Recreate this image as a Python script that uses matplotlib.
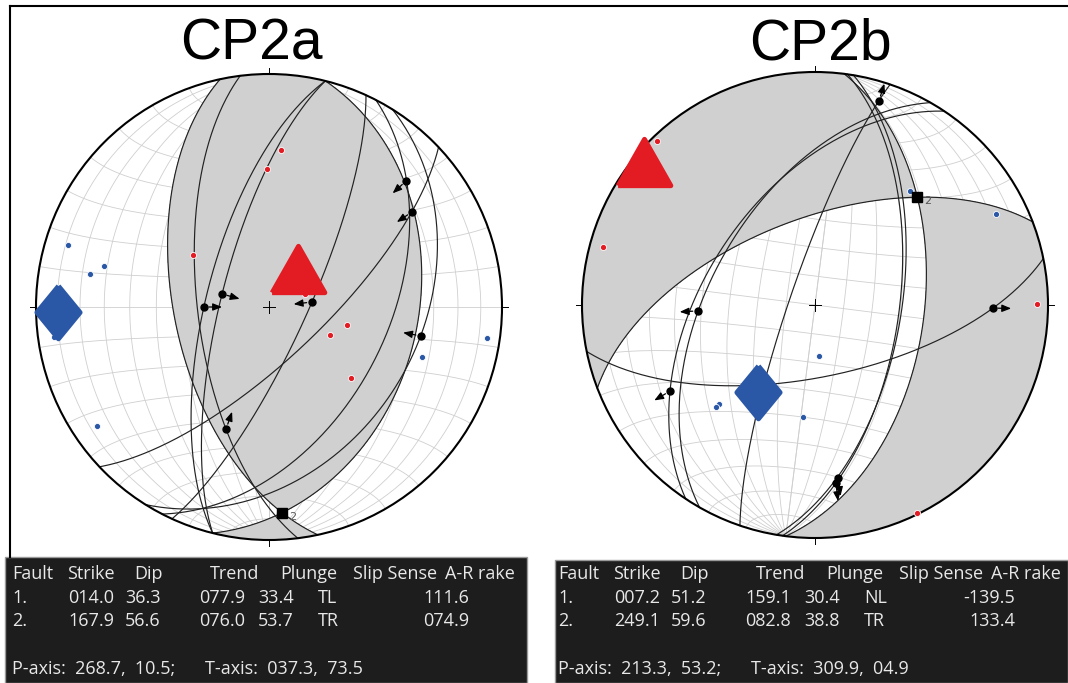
import numpy as np
import matplotlib
matplotlib.use('Agg')
import matplotlib.pyplot as plt
from matplotlib.patches import Circle, Rectangle
from matplotlib.lines import Line2D
from matplotlib.markers import MarkerStyle

# ---------------- CP2a ----------------
a_fault_strike = [172.9, 194.0, 194.0, 24.6, 27.3, 32.0, 46.7]
a_fault_dip = [65.0, 73.0, 67.8, 77.0, 48.0, 36.0, 72.0]
a_slip_trend = [199.4, 285.5, 270.0, 83.4, 47.4, 100.8, 56.4]
a_slip_plunge = [43.8, 73.0, 67.2, 75.0, 21.2, 34.0, 27.2]
a_slip_kind = ['R', 'R', 'R', 'R', 'R', 'R', 'R']
a_t_trend = [4.4, 359.2, 304.4, 70.1, 103.0, 114.7, 130.9]
a_t_plunge = [32.9, 40.5, 57.5, 76.7, 61.9, 66.5, 51.5]
a_p_trend = [287.1, 284.0, 280.4, 262.1, 98.1, 108.1, 235.3]
a_p_plunge = [10.7, 27.9, 22.9, 7.6, 6.1, 31.5, 11.2]

a_np_strike = [14.0, 167.9]
a_np_dip = [36.3, 56.6]
a_np_trend = [77.9, 76.0]
a_np_plunge = [33.4, 53.7]
a_np_sense = ['TL', 'TR']
a_np_rake = [111.6, 74.9]
a_p_axis = (268.7, 10.5)
a_t_axis = (37.3, 73.5)
a_b_axis = (176.3, 12.6)

# ---------------- CP2b ----------------
b_fault_strike = [198.8, 209.7, 213.7, 78.5, 8.0, 9.5]
b_fault_dip = [81.0, 53.2, 51.4, 64.7, 60.4, 59.6]
b_slip_trend = [17.4, 267.1, 239.3, 91.0, 173.3, 172.4]
b_slip_plunge = [9.1, 48.3, 28.4, 24.6, 24.1, 26.0]
b_slip_kind = ['N', 'N', 'N', 'N', 'N', 'N']
b_t_trend = [316.1, 309.7, 285.3, 89.7, 153.9, 309.3]
b_t_plunge = [2.6, 0.7, 6.3, 5.3, 0.6, 9.4]
b_p_trend = [39.8, 63.3, 175.5, 224.1, 224.1, 186.1]
b_p_plunge = [36.5, 14.1, 72.1, 40.5, 38.9, 50.0]

b_np_strike = [7.2, 249.1]
b_np_dip = [51.2, 59.6]
b_np_trend = [159.1, 82.8]
b_np_plunge = [30.4, 38.8]
b_np_sense = ['NL', 'TR']
b_np_rake = [-139.5, 133.4]
b_p_axis = (213.3, 53.2)
b_t_axis = (309.9, 4.9)
b_b_axis = (43.5, 36.4)

header = ['Fault', 'Strike', 'Dip', 'Trend', 'Plunge', 'Slip Sense', 'A-R rake']

W, H = 1068, 683
fig = plt.figure(figsize=(W / 100, H / 100), dpi=100)


def fx(x):
    return x / W


def fy(y):
    return 1 - y / H


# ---- equal-area lower hemisphere helpers ----
def lin_vec(trend, plunge):
    t, p = np.radians(trend), np.radians(plunge)
    return np.array([np.cos(p) * np.sin(t), np.cos(p) * np.cos(t), np.sin(p)])


def proj_vec(v):
    e, n, d = v
    flip = d < 0
    e = np.where(flip, -e, e)
    n = np.where(flip, -n, n)
    d = np.where(flip, -d, d)
    d = np.clip(d, -1, 1)
    plunge = np.arcsin(d)
    trend = np.arctan2(e, n)
    r = np.sqrt(2) * np.sin(np.pi / 4 - plunge / 2)
    return r * np.sin(trend), r * np.cos(trend)


def proj_line(trend, plunge):
    return proj_vec(lin_vec(np.asarray(trend), np.asarray(plunge)))


def plane_curve(strike, dip, n=241):
    s = np.radians(strike)
    dd = s + np.pi / 2
    d = np.radians(dip)
    sv = np.array([np.sin(s), np.cos(s), 0.0])
    dv = np.array([np.cos(d) * np.sin(dd), np.cos(d) * np.cos(dd), np.sin(d)])
    a = np.linspace(0, np.pi, n)
    v = np.outer(sv, np.cos(a)) + np.outer(dv, np.sin(a))
    return proj_vec(v)


def pole_vec(strike, dip):
    return lin_vec(strike + 90 + 180, 90 - dip)


def small_circle(axis_trend, half_angle, n=181):
    A = np.array([np.sin(np.radians(axis_trend)), np.cos(np.radians(axis_trend)), 0.0])
    B1 = np.array([np.sin(np.radians(axis_trend + 90)), np.cos(np.radians(axis_trend + 90)), 0.0])
    B2 = np.array([0.0, 0.0, 1.0])
    c = np.radians(half_angle)
    phi = np.linspace(0, np.pi, n)
    v = (np.outer(A, np.full_like(phi, np.cos(c)))
         + np.sin(c) * (np.outer(B1, np.cos(phi)) + np.outer(B2, np.sin(phi))))
    return proj_vec(v)


tri_marker = MarkerStyle([(-1, -0.88), (1, -0.88), (0, 0.88), (-1, -0.88)], joinstyle='round')
dia_marker = MarkerStyle([(0, 1), (0.82, 0), (0, -1), (-0.82, 0), (0, 1)], joinstyle='round')

RED = '#e31b23'
BLUE = '#2b58a6'
GREY_FILL = '#d0d0d0'


def draw_net(cx, cy, R, net_rot, fault_strike, fault_dip, slip_trend, slip_plunge,
             slip_kind, t_trend, t_plunge, p_trend, p_plunge, np_strike, np_dip,
             p_axis, t_axis, b_axis):
    half = 1.1 * R
    ax = fig.add_axes([fx(cx - half), fy(cy + half), 2 * half / W, 2 * half / H])
    ax.set_xlim(-1.1, 1.1)
    ax.set_ylim(-1.1, 1.1)
    ax.set_aspect('equal')
    ax.axis('off')

    # net grid
    for dip in range(10, 91, 10):
        for st in (net_rot, net_rot + 180):
            x, y = plane_curve(st, dip)
            ax.plot(x, y, color='#cfcfcf', lw=0.6, zorder=1)
    for ang in range(10, 90, 10):
        for at in (net_rot, net_rot + 180):
            x, y = small_circle(at, ang)
            ax.plot(x, y, color='#cfcfcf', lw=0.6, zorder=1)
    x, y = plane_curve(net_rot + 90, 90)
    ax.plot(x, y, color='#cfcfcf', lw=0.6, zorder=1)

    # T quadrants of the fault plane solution
    g = np.linspace(-1, 1, 700)
    X, Y = np.meshgrid(g, g)
    rr = np.clip(np.hypot(X, Y), 0, 1)
    pl = np.pi / 2 - 2 * np.arcsin(rr / np.sqrt(2))
    tr = np.arctan2(X, Y)
    V = np.array([np.cos(pl) * np.sin(tr), np.cos(pl) * np.cos(tr), np.sin(pl)])
    n1 = pole_vec(np_strike[0], np_dip[0])
    n2 = pole_vec(np_strike[1], np_dip[1])
    tv = lin_vec(*t_axis)
    sgn = np.sign(np.dot(tv, n1) * np.dot(tv, n2))
    val = np.tensordot(n1, V, axes=1) * np.tensordot(n2, V, axes=1) * sgn
    cs = ax.contourf(X, Y, val, levels=[0, 10], colors=[GREY_FILL], zorder=2)
    cs.set_clip_path(Circle((0, 0), 1, transform=ax.transData))

    # nodal planes and fault planes
    for s, d in zip(np_strike, np_dip):
        x, y = plane_curve(s, d)
        ax.plot(x, y, color='#222222', lw=0.85, zorder=3)
    for s, d in zip(fault_strike, fault_dip):
        x, y = plane_curve(s, d)
        ax.plot(x, y, color='#222222', lw=0.85, zorder=3)

    # primitive, centre cross, cardinal ticks
    ax.add_patch(Circle((0, 0), 1, fill=False, ec='black', lw=1.5, zorder=4))
    ax.plot([-0.025, 0.025], [0, 0], color='k', lw=0.7, zorder=4)
    ax.plot([0, 0], [-0.025, 0.025], color='k', lw=0.7, zorder=4)
    for ang in (0, 90, 180, 270):
        ux, uy = np.sin(np.radians(ang)), np.cos(np.radians(ang))
        ax.plot([ux, 1.025 * ux], [uy, 1.025 * uy], color='k', lw=0.7, zorder=4)

    # individual P and T axes
    x, y = proj_line(t_trend, t_plunge)
    ax.plot(x, y, 'o', ms=4.4, color=RED, mec='white', mew=0.6, zorder=5, ls='none')
    x, y = proj_line(p_trend, p_plunge)
    ax.plot(x, y, 'o', ms=4.4, color=BLUE, mec='white', mew=0.6, zorder=5, ls='none')

    # slip lineations with hanging-wall movement arrows
    sx, sy = proj_line(slip_trend, slip_plunge)
    ax.plot(sx, sy, 'o', ms=5, color='black', zorder=6, ls='none')
    for x0, y0, kind in zip(sx, sy, slip_kind):
        r0 = np.hypot(x0, y0)
        ux, uy = x0 / r0, y0 / r0
        sg = -1 if kind == 'R' else 1
        ax.annotate('', xy=(x0 + sg * 0.078 * ux, y0 + sg * 0.078 * uy),
                    xytext=(x0 + sg * 0.022 * ux, y0 + sg * 0.022 * uy),
                    arrowprops=dict(arrowstyle='-|>,head_length=0.55,head_width=0.22',
                                    color='black', lw=0.9, shrinkA=0, shrinkB=0),
                    zorder=6)

    # summary axes
    x, y = proj_line(*t_axis)
    ax.plot(x, y, marker=tri_marker, ms=38, mec=RED, mew=3.5,
            mfc=RED, zorder=7, ls='none')
    x, y = proj_line(*p_axis)
    ax.plot(x, y, marker=dia_marker, ms=38, mec=BLUE, mew=3.5,
            mfc=BLUE, zorder=7, ls='none')
    x, y = proj_line(*b_axis)
    ax.plot(x, y, 's', ms=6.5, color='black', zorder=7, ls='none')
    ax.annotate('2', xy=(x, y), xytext=(5, -5), textcoords='offset points',
                fontsize=8, color='#555555', zorder=7, family='DejaVu Sans')
    return ax


draw_net(269, 307, 233, 0.0, a_fault_strike, a_fault_dip, a_slip_trend, a_slip_plunge,
         a_slip_kind, a_t_trend, a_t_plunge, a_p_trend, a_p_plunge, a_np_strike, a_np_dip,
         a_p_axis, a_t_axis, a_b_axis)
draw_net(815, 305, 233, 7.2, b_fault_strike, b_fault_dip, b_slip_trend, b_slip_plunge,
         b_slip_kind, b_t_trend, b_t_plunge, b_p_trend, b_p_plunge, b_np_strike, b_np_dip,
         b_p_axis, b_t_axis, b_b_axis)

# titles
fig.text(fx(251), fy(59), 'CP2a', fontsize=41, family='Liberation Sans',
         ha='center', va='baseline')
fig.text(fx(820), fy(59), 'CP2b', fontsize=41, family='Liberation Sans',
         ha='center', va='baseline')

# frame
fig.add_artist(Line2D([fx(10), fx(1068)], [fy(6), fy(6)], color='black', lw=1.5))
fig.add_artist(Line2D([fx(10), fx(10)], [fy(6), fy(557)], color='black', lw=1.5))


# result tables
def draw_table(x0, box_left, box_right, box_top, strike, dip, trend, plunge, sense,
               rake, p_axis, t_axis):
    fig.add_artist(Rectangle((fx(box_left), 0), fx(box_right - box_left),
                             fy(box_top), transform=fig.transFigure,
                             facecolor='#1d1d1d', edgecolor='#9a9a9a', lw=1))
    kw = dict(fontsize=13, family='Open Sans', color='#e8e8e8', va='center')
    head_x = [0, 55, 122, 198, 268, 341, 433]
    for hx, h in zip(head_x, header):
        fig.text(fx(x0 + hx), fy(574), h, **kw)
    row_y = [598, 621]
    for i in range(2):
        y = fy(row_y[i])
        fig.text(fx(x0), y, f'{i + 1}.', **kw)
        fig.text(fx(x0 + 56), y, f'{strike[i]:05.1f}', **kw)
        fig.text(fx(x0 + 113), y, f'{dip[i]:04.1f}', **kw)
        fig.text(fx(x0 + 187), y, f'{trend[i]:05.1f}', **kw)
        fig.text(fx(x0 + 246), y, f'{plunge[i]:04.1f}', **kw)
        fig.text(fx(x0 + 306), y, sense[i], **kw)
        fig.text(fx(x0 + 457), y, f'{rake[i]:05.1f}', ha='right', **kw)
    fig.text(fx(x0), fy(669), f'P-axis:  {p_axis[0]:05.1f},  {p_axis[1]:04.1f};', **kw)
    fig.text(fx(x0 + 193), fy(669), f'T-axis:  {t_axis[0]:05.1f},  {t_axis[1]:04.1f}', **kw)


draw_table(12, 5, 527, 557, a_np_strike, a_np_dip, a_np_trend, a_np_plunge, a_np_sense,
           a_np_rake, a_p_axis, a_t_axis)
draw_table(558, 555, 1068, 560, b_np_strike, b_np_dip, b_np_trend, b_np_plunge, b_np_sense,
           b_np_rake, b_p_axis, b_t_axis)

fig.savefig('out.png', dpi=100)
